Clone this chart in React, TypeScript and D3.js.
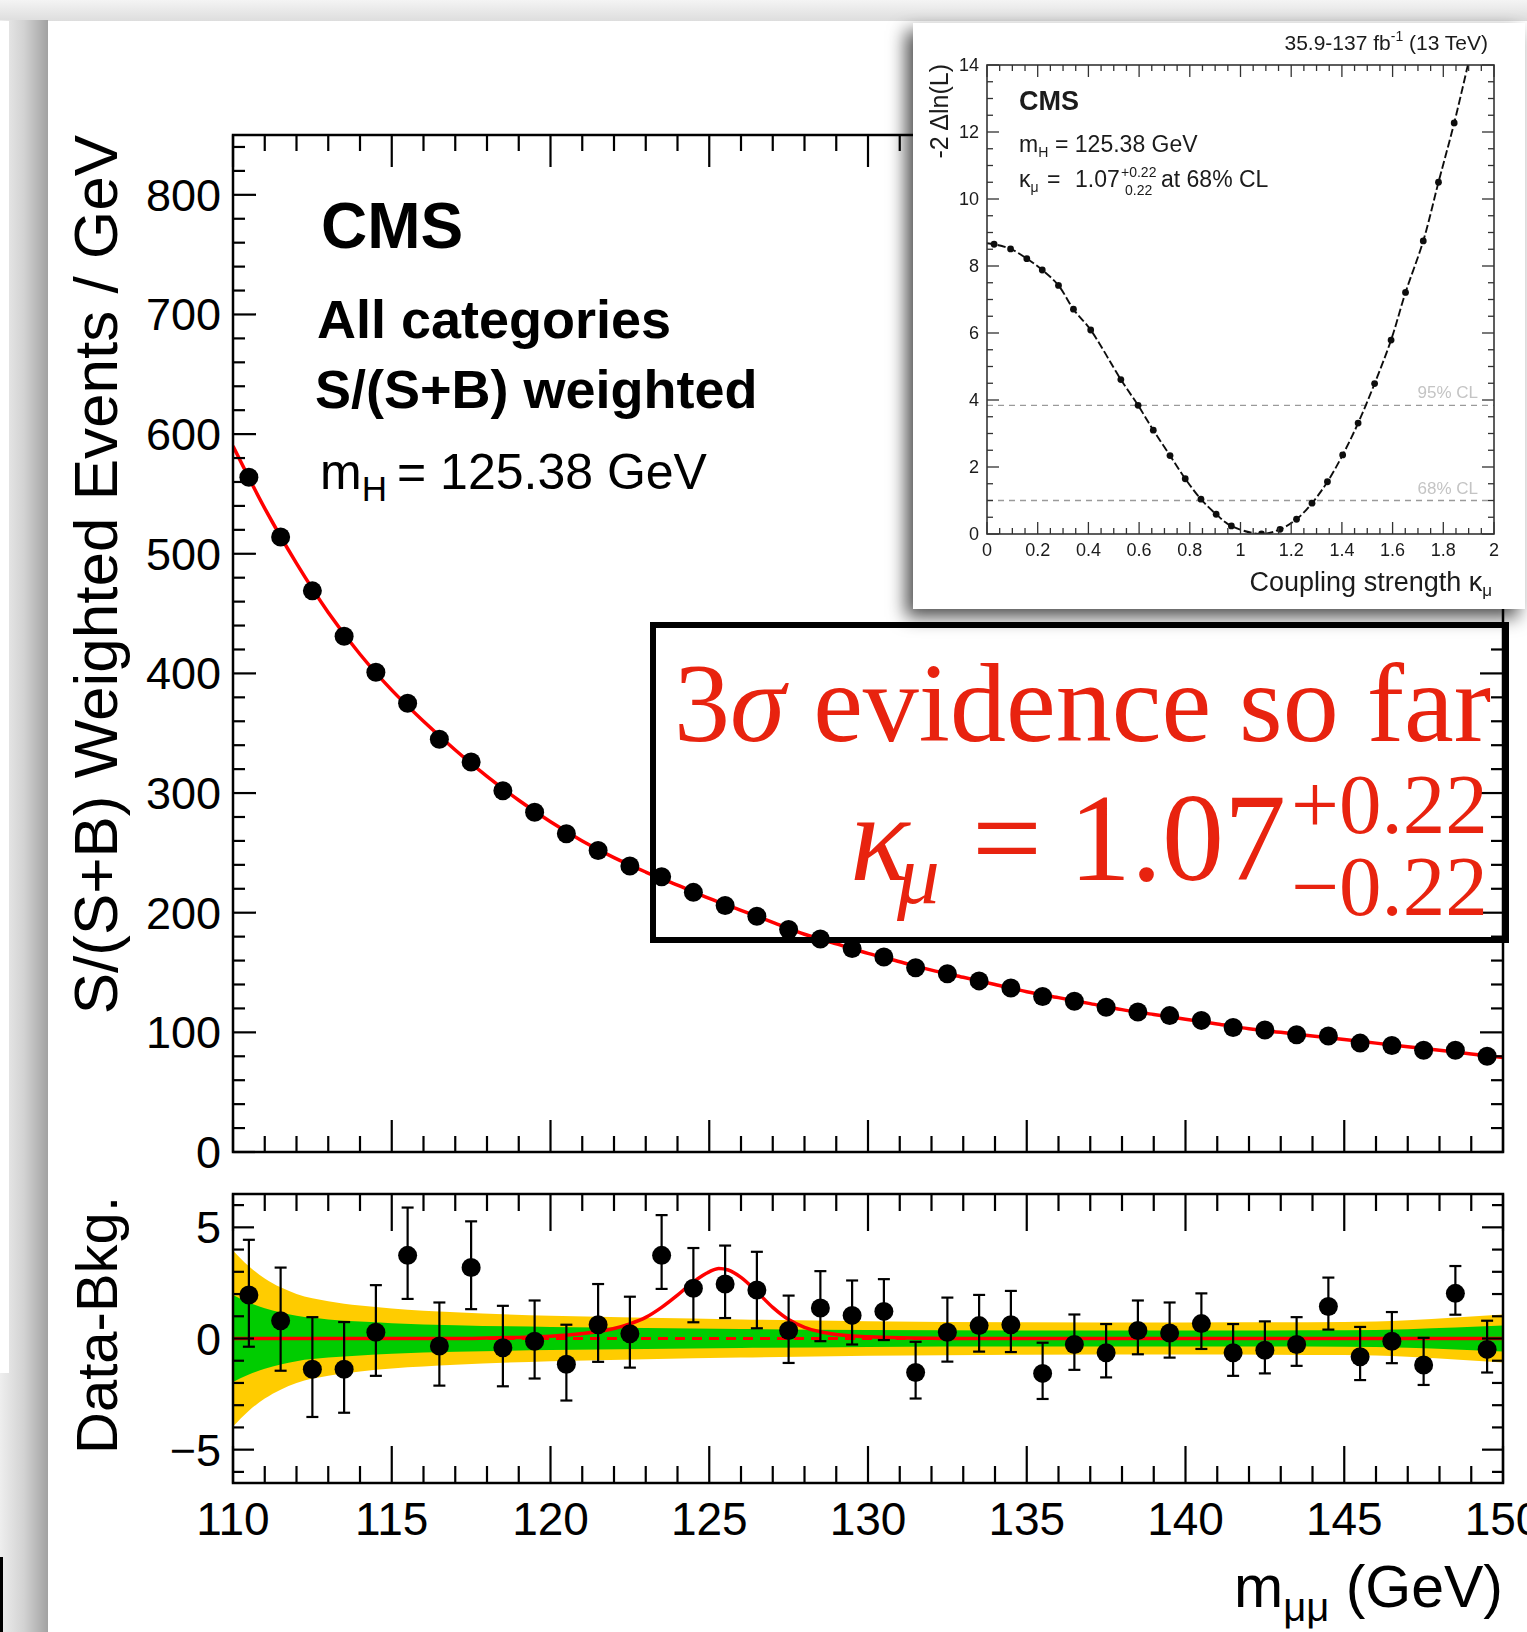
import React from "react";
import * as d3 from "d3";

const WIDTH = 1527;
const HEIGHT = 1632;
const SANS = "'Liberation Sans', Arial, Helvetica, sans-serif";
const SERIF = "'Liberation Serif', 'Times New Roman', serif";
const RED_TEXT = "#e8230f";

// Dimuon invariant-mass bin centres (GeV)
const massBins = [
  110.5, 111.5, 112.5, 113.5, 114.5, 115.5, 116.5, 117.5, 118.5, 119.5,
  120.5, 121.5, 122.5, 123.5, 124.5, 125.5, 126.5, 127.5, 128.5, 129.5,
  130.5, 131.5, 132.5, 133.5, 134.5, 135.5, 136.5, 137.5, 138.5, 139.5,
  140.5, 141.5, 142.5, 143.5, 144.5, 145.5, 146.5, 147.5, 148.5, 149.5,
];

// S/(S+B) weighted events per GeV
const weightedEvents = [
  564, 514, 469, 431, 401, 375, 345, 326, 302, 284,
  266, 252, 239, 230, 217, 206, 197, 186, 178, 170,
  163, 154, 149, 143, 137, 130, 126, 121, 117, 114,
  110, 104, 102, 98, 97, 91, 89, 85, 85, 80,
];

// Signal-plus-background fit at integer masses
const fitMass = [
  110, 111, 112, 113, 114, 115, 116, 117, 118, 119, 120, 121, 122, 123, 124,
  125, 126, 127, 128, 129, 130, 131, 132, 133, 134, 135, 136, 137, 138, 139,
  140, 141, 142, 143, 144, 145, 146, 147, 148, 149, 150,
];
const fitYield = [
  590, 538, 492, 451, 416, 386, 360, 336, 314, 294, 276, 260, 246, 234, 223,
  212, 202, 192, 182, 174, 166, 159, 152, 146, 140, 134, 129, 124, 119, 115,
  111, 107, 103, 100, 97, 94, 91, 88, 85, 82, 79,
];

// Data minus background, with upper / lower uncertainties
const residual = [
  1.96, 0.8, -1.38, -1.38, 0.28, 3.74, -0.34, 3.19, -0.42, -0.12,
  -1.16, 0.62, 0.21, 3.74, 2.26, 2.45, 2.18, 0.36, 1.37, 1.04,
  1.22, -1.53, 0.28, 0.58, 0.62, -1.57, -0.27, -0.64, 0.36, 0.25,
  0.67, -0.64, -0.53, -0.27, 1.44, -0.82, -0.12, -1.19, 2.03, -0.49,
];
const residualErrUp = [
  2.48, 2.39, 2.34, 2.12, 2.12, 2.15, 1.96, 2.08, 1.89, 1.83,
  1.78, 1.83, 1.67, 1.81, 1.81, 1.73, 1.72, 1.57, 1.66, 1.57,
  1.45, 1.38, 1.56, 1.38, 1.52, 1.38, 1.35, 1.29, 1.35, 1.37,
  1.36, 1.29, 1.3, 1.23, 1.3, 1.34, 1.31, 1.22, 1.23, 1.29,
];
const residualErrDown = [
  2.33, 2.25, 2.15, 1.96, 1.96, 1.96, 1.78, 1.87, 1.73, 1.68,
  1.63, 1.67, 1.52, 1.51, 1.53, 1.53, 1.72, 1.46, 1.49, 1.31,
  1.29, 1.17, 1.32, 1.17, 1.23, 1.15, 1.14, 1.11, 1.07, 1.11,
  1.14, 1.04, 1.04, 0.96, 1.04, 1.05, 0.99, 0.9, 0.96, 1.04,
];

// Background-fit uncertainty band (half widths)
const bandMass = [110, 110.5, 111, 111.5, 112, 113, 114, 115, 117, 120, 123, 126, 130, 135, 140, 145, 147, 148.5, 150];
const band2Sigma = [3.96, 3.25, 2.7, 2.3, 2.0, 1.68, 1.48, 1.35, 1.18, 1.02, 0.93, 0.86, 0.78, 0.73, 0.72, 0.74, 0.82, 0.94, 1.08];
const band1Sigma = [1.96, 1.62, 1.36, 1.17, 1.02, 0.86, 0.76, 0.69, 0.6, 0.52, 0.47, 0.43, 0.38, 0.36, 0.36, 0.37, 0.42, 0.49, 0.58];

// Fitted signal shape in data-minus-background units
const signalMass = [110, 117, 118, 119, 120, 121, 122, 122.5, 123, 123.5, 124, 124.5, 125, 125.3, 125.6, 126, 126.5, 127, 127.5, 128, 128.5, 129, 130, 131, 132, 133, 150];
const signalYield = [0, 0, 0.02, 0.05, 0.1, 0.22, 0.45, 0.66, 0.95, 1.4, 1.95, 2.55, 3.0, 3.15, 3.08, 2.75, 2.1, 1.4, 0.85, 0.5, 0.3, 0.18, 0.08, 0.03, 0.01, 0, 0];

// Likelihood scan of the muon coupling modifier
const scanKappa = [
  0.028, 0.093, 0.157, 0.218, 0.282, 0.341, 0.409, 0.528, 0.596, 0.656,
  0.722, 0.782, 0.844, 0.904, 0.964, 1.083, 1.156, 1.221, 1.282, 1.343,
  1.403, 1.464, 1.529, 1.594, 1.651, 1.721, 1.781, 1.843,
];
const scanNll = [
  8.65, 8.51, 8.22, 7.88, 7.42, 6.71, 6.09, 4.61, 3.84, 3.1,
  2.34, 1.65, 1.04, 0.59, 0.24, 0.0, 0.14, 0.44, 0.92, 1.56,
  2.36, 3.31, 4.49, 5.79, 7.21, 8.75, 10.5, 12.27,
];
const scanEnds = [
  [0, 8.68],
  [1.9, 14.1],
];

// Confidence-level thresholds
const clLevels = [
  { value: 3.84, label: "95% CL" },
  { value: 1.0, label: "68% CL" },
];

// Axis tick labels
const massTicks = [110, 115, 120, 125, 130, 135, 140, 145, 150];
const mainYTicks = [0, 100, 200, 300, 400, 500, 600, 700, 800];
const ratioYTicks = [-5, 0, 5];
const kappaTicks = [0, 0.2, 0.4, 0.6, 0.8, 1, 1.2, 1.4, 1.6, 1.8, 2];
const nllTicks = [0, 2, 4, 6, 8, 10, 12, 14];

const MAIN = { left: 233, right: 1503, top: 135, bottom: 1152 };
const RATIO = { left: 233, right: 1503, top: 1194, bottom: 1483 };
const INSET = { left: 987, right: 1494, top: 65, bottom: 534 };

export default function App() {
  const x = d3.scaleLinear().domain([110, 150]).range([MAIN.left, MAIN.right]);
  const yMain = d3.scaleLinear().domain([0, 850]).range([MAIN.bottom, MAIN.top]);
  const yRatio = d3.scaleLinear().domain([-6.5, 6.5]).range([RATIO.bottom, RATIO.top]);
  const kx = d3.scaleLinear().domain([0, 2]).range([INSET.left, INSET.right]);
  const ky = d3.scaleLinear().domain([0, 14]).range([INSET.bottom, INSET.top]);

  const fitPath = d3
    .line<number>()
    .x((_, i) => x(fitMass[i]))
    .y((d) => yMain(d))
    .curve(d3.curveMonotoneX)(fitYield) as string;

  const bandArea = (half: number[]) =>
    d3
      .area<number>()
      .x((_, i) => x(bandMass[i]))
      .y0((d) => yRatio(-d))
      .y1((d) => yRatio(d))
      .curve(d3.curveMonotoneX)(half) as string;

  const signalPath = d3
    .line<number>()
    .x((_, i) => x(signalMass[i]))
    .y((d) => yRatio(d))
    .curve(d3.curveMonotoneX)(signalYield) as string;

  const scanPoints: [number, number][] = [
    [scanEnds[0][0], scanEnds[0][1]],
    ...scanKappa.map((k, i) => [k, scanNll[i]] as [number, number]),
    [scanEnds[1][0], scanEnds[1][1]],
  ];
  const scanPath = d3
    .line<[number, number]>()
    .x((d) => kx(d[0]))
    .y((d) => ky(d[1]))
    .curve(d3.curveCatmullRom)(scanPoints) as string;

  const massMinor = d3.range(110, 150.001, 1);
  const mainYMinor = d3.range(0, 850.001, 20);
  const ratioYMinor = d3.range(-6, 6.001, 1);
  const kappaMinor = d3.range(0, 2.0001, 0.05);
  const nllMinor = d3.range(0, 14.001, 0.5);
  const isMult = (v: number, step: number) => Math.abs(v / step - Math.round(v / step)) < 1e-6;

  const tickStroke = { stroke: "#000", strokeWidth: 2.2 };

  return (
    <svg
      width={WIDTH}
      height={HEIGHT}
      viewBox={`0 0 ${WIDTH} ${HEIGHT}`}
      style={{ position: "fixed", left: 0, top: 0, display: "block" }}
      fontFamily={SANS}
    >
      <defs>
        <linearGradient id="leftShade" x1="0" x2="1" y1="0" y2="0">
          <stop offset="0" stopColor="#eeeeee" />
          <stop offset="0.5" stopColor="#d2d2d2" />
          <stop offset="1" stopColor="#a2a2a2" />
        </linearGradient>
        <linearGradient id="topShade" x1="0" x2="0" y1="0" y2="1">
          <stop offset="0" stopColor="#f4f4f4" />
          <stop offset="1" stopColor="#dcdcdc" />
        </linearGradient>
        <filter id="cardShadow" x="-15%" y="-15%" width="130%" height="135%">
          <feDropShadow dx="-7" dy="8" stdDeviation="9" floodColor="#000" floodOpacity="0.7" />
        </filter>
        <filter id="soft" x="-5%" y="-5%" width="110%" height="110%">
          <feGaussianBlur stdDeviation="0.7" />
        </filter>
        <clipPath id="mainClip">
          <rect x={MAIN.left} y={MAIN.top} width={MAIN.right - MAIN.left} height={MAIN.bottom - MAIN.top} />
        </clipPath>
        <clipPath id="ratioClip">
          <rect x={RATIO.left} y={RATIO.top} width={RATIO.right - RATIO.left} height={RATIO.bottom - RATIO.top} />
        </clipPath>
        <clipPath id="insetClip">
          <rect x={INSET.left} y={INSET.top} width={INSET.right - INSET.left} height={INSET.bottom - INSET.top} />
        </clipPath>
      </defs>

      {/* page surround */}
      <rect x={0} y={0} width={WIDTH} height={HEIGHT} fill="#dedede" />
      <rect x={0} y={0} width={WIDTH} height={22} fill="url(#topShade)" />
      <rect x={0} y={20} width={48} height={HEIGHT - 20} fill="url(#leftShade)" />
      <rect x={0} y={21} width={9} height={1352} fill="#ffffff" />
      <rect x={0} y={1557} width={3} height={HEIGHT - 1557} fill="#000" />
      <rect x={48} y={21} width={WIDTH - 48} height={HEIGHT - 21} fill="#ffffff" />

      {/* ===== main panel ===== */}
      <g clipPath="url(#mainClip)">
        <path d={fitPath} fill="none" stroke="#ff0000" strokeWidth={3.5} />
        {massBins.map((m, i) => (
          <circle key={`d${i}`} cx={x(m)} cy={yMain(weightedEvents[i])} r={9.5} fill="#000" />
        ))}
      </g>
      <rect
        x={MAIN.left}
        y={MAIN.top}
        width={MAIN.right - MAIN.left}
        height={MAIN.bottom - MAIN.top}
        fill="none"
        stroke="#000"
        strokeWidth={2.5}
      />
      {massMinor.map((m) => {
        const len = isMult(m, 5) ? 32 : 16;
        return (
          <g key={`mt${m}`} {...tickStroke}>
            <line x1={x(m)} x2={x(m)} y1={MAIN.bottom} y2={MAIN.bottom - len} />
            <line x1={x(m)} x2={x(m)} y1={MAIN.top} y2={MAIN.top + len} />
          </g>
        );
      })}
      {mainYMinor.map((v) => {
        const len = isMult(v, 100) ? 23 : 12;
        return (
          <g key={`my${v}`} {...tickStroke}>
            <line x1={MAIN.left} x2={MAIN.left + len} y1={yMain(v)} y2={yMain(v)} />
            <line x1={MAIN.right} x2={MAIN.right - len} y1={yMain(v)} y2={yMain(v)} />
          </g>
        );
      })}
      {mainYTicks.map((v) => (
        <text key={`myl${v}`} x={221} y={yMain(v) + 16} textAnchor="end" fontSize={45}>
          {v}
        </text>
      ))}
      <text transform={`translate(117,${MAIN.top}) rotate(-90)`} textAnchor="end" fontSize={62}>
        S/(S+B) Weighted Events / GeV
      </text>

      <text x={321} y={248} fontSize={64} fontWeight="bold">
        CMS
      </text>
      <text x={317} y={338} fontSize={54} fontWeight="bold">
        All categories
      </text>
      <text x={315} y={408} fontSize={54} fontWeight="bold">
        S/(S+B) weighted
      </text>
      <text x={320} y={489} fontSize={50}>
        m
        <tspan fontSize={35} dy={12}>
          H
        </tspan>
        <tspan x={397} dy={-12}>
          = 125.38 GeV
        </tspan>
      </text>

      {/* ===== ratio panel ===== */}
      <g clipPath="url(#ratioClip)">
        <path d={bandArea(band2Sigma)} fill="#ffcc00" />
        <path d={bandArea(band1Sigma)} fill="#00cc00" />
        <line
          x1={RATIO.left}
          x2={RATIO.right}
          y1={yRatio(0)}
          y2={yRatio(0)}
          stroke="#ff0000"
          strokeWidth={3}
          strokeDasharray="10 7"
        />
        <path d={signalPath} fill="none" stroke="#ff0000" strokeWidth={3.5} />
        {massBins.map((m, i) => {
          const cx = x(m);
          const top = yRatio(residual[i] + residualErrUp[i]);
          const bot = yRatio(residual[i] - residualErrDown[i]);
          return (
            <g key={`r${i}`}>
              <g stroke="#000" strokeWidth={2.2}>
                <line x1={cx} x2={cx} y1={top} y2={bot} />
                <line x1={cx - 6} x2={cx + 6} y1={top} y2={top} />
                <line x1={cx - 6} x2={cx + 6} y1={bot} y2={bot} />
              </g>
              <circle cx={cx} cy={yRatio(residual[i])} r={9.5} fill="#000" />
            </g>
          );
        })}
      </g>
      <rect
        x={RATIO.left}
        y={RATIO.top}
        width={RATIO.right - RATIO.left}
        height={RATIO.bottom - RATIO.top}
        fill="none"
        stroke="#000"
        strokeWidth={2.5}
      />
      {massMinor.map((m) => {
        const len = isMult(m, 5) ? 37 : 17;
        return (
          <g key={`rt${m}`} {...tickStroke}>
            <line x1={x(m)} x2={x(m)} y1={RATIO.bottom} y2={RATIO.bottom - len} />
            <line x1={x(m)} x2={x(m)} y1={RATIO.top} y2={RATIO.top + len} />
          </g>
        );
      })}
      {ratioYMinor.map((v) => {
        const len = isMult(v, 5) ? 21 : 11;
        return (
          <g key={`ry${v}`} {...tickStroke}>
            <line x1={RATIO.left} x2={RATIO.left + len} y1={yRatio(v)} y2={yRatio(v)} />
            <line x1={RATIO.right} x2={RATIO.right - len} y1={yRatio(v)} y2={yRatio(v)} />
          </g>
        );
      })}
      {ratioYTicks.map((v) => (
        <text key={`ryl${v}`} x={221} y={yRatio(v) + 16} textAnchor="end" fontSize={45}>
          {v < 0 ? `\u2212${-v}` : v}
        </text>
      ))}
      <text transform={`translate(117,${RATIO.top + 2}) rotate(-90)`} textAnchor="end" fontSize={58}>
        Data-Bkg.
      </text>
      {massTicks.map((m) => (
        <text key={`xl${m}`} x={x(m)} y={1535} textAnchor="middle" fontSize={46}>
          {m}
        </text>
      ))}
      <text x={MAIN.right} y={1607} textAnchor="end" fontSize={59}>
        m
        <tspan fontSize={40} dy={14}>
          μμ
        </tspan>
        <tspan dy={-14}> (GeV)</tspan>
      </text>

      {/* ===== result box ===== */}
      <rect x={653} y={625} width={853} height={315} fill="none" stroke="#000" strokeWidth={6} />
      <g fill={RED_TEXT} fontFamily={SERIF}>
        <text x={1491} y={741} textAnchor="end" fontSize={112}>
          3<tspan fontStyle="italic">σ</tspan> evidence so far
        </text>
        <text x={850} y={880} fontSize={124} fontStyle="italic">
          κ
        </text>
        <text x={897} y={903} fontSize={85} fontStyle="italic">
          μ
        </text>
        <text x={1007} y={880} fontSize={124} textAnchor="middle">
          =
        </text>
        <text x={1286} y={880} fontSize={124} textAnchor="end">
          1.07
        </text>
        <text x={1291} y={833} fontSize={85}>
          +0.22
        </text>
        <text x={1291} y={915} fontSize={85}>
          −0.22
        </text>
      </g>

      {/* ===== likelihood-scan inset ===== */}
      <rect x={913} y={23} width={612} height={586} fill="#ffffff" filter="url(#cardShadow)" />
      <g filter="url(#soft)" fill="#1a1a1a" stroke="none">
        {clLevels.map((c) => (
          <g key={c.label}>
            <line
              x1={INSET.left}
              x2={INSET.right}
              y1={ky(c.value)}
              y2={ky(c.value)}
              stroke="#9a9a9a"
              strokeWidth={1.3}
              strokeDasharray="6 5"
            />
            <text x={1478} y={ky(c.value) - 7} textAnchor="end" fontSize={17} fill="#c4c4c4">
              {c.label}
            </text>
          </g>
        ))}
        <g clipPath="url(#insetClip)">
          <path d={scanPath} fill="none" stroke="#111" strokeWidth={1.9} strokeDasharray="8 3" />
          {scanKappa.map((k, i) => (
            <circle key={`s${i}`} cx={kx(k)} cy={ky(scanNll[i])} r={3.4} fill="#111" />
          ))}
        </g>
        <rect
          x={INSET.left}
          y={INSET.top}
          width={INSET.right - INSET.left}
          height={INSET.bottom - INSET.top}
          fill="none"
          stroke="#333"
          strokeWidth={1.6}
        />
        {kappaMinor.map((k) => {
          const len = isMult(k, 0.2) ? 12 : 6;
          return (
            <g key={`kt${k.toFixed(2)}`} stroke="#333" strokeWidth={1.3}>
              <line x1={kx(k)} x2={kx(k)} y1={INSET.bottom} y2={INSET.bottom - len} />
              <line x1={kx(k)} x2={kx(k)} y1={INSET.top} y2={INSET.top + len} />
            </g>
          );
        })}
        {nllMinor.map((v) => {
          const len = isMult(v, 2) ? 12 : 6;
          return (
            <g key={`nt${v}`} stroke="#333" strokeWidth={1.3}>
              <line x1={INSET.left} x2={INSET.left + len} y1={ky(v)} y2={ky(v)} />
              <line x1={INSET.right} x2={INSET.right - len} y1={ky(v)} y2={ky(v)} />
            </g>
          );
        })}
        {kappaTicks.map((k) => (
          <text key={`kl${k}`} x={kx(k)} y={556} textAnchor="middle" fontSize={18}>
            {k}
          </text>
        ))}
        {nllTicks.map((v) => (
          <text key={`nl${v}`} x={979} y={ky(v) + 6} textAnchor="end" fontSize={18}>
            {v}
          </text>
        ))}
        <text transform={`translate(948,${INSET.top - 1}) rotate(-90)`} textAnchor="end" fontSize={25}>
          -2 Δln(L)
        </text>
        <text x={1492} y={591} textAnchor="end" fontSize={27}>
          Coupling strength κ
          <tspan fontSize={17} dy={5}>
            μ
          </tspan>
        </text>
        <text x={1488} y={50} textAnchor="end" fontSize={21}>
          35.9-137 fb
          <tspan fontSize={14} dy={-9}>
            -1
          </tspan>
          <tspan dy={9}> (13 TeV)</tspan>
        </text>
        <text x={1019} y={110} fontSize={27} fontWeight="bold">
          CMS
        </text>
        <text x={1019} y={152} fontSize={23}>
          m
          <tspan fontSize={14} dy={5}>
            H
          </tspan>
          <tspan x={1055} dy={-5}>
            = 125.38 GeV
          </tspan>
        </text>
        <text x={1019} y={187} fontSize={23}>
          κ
          <tspan fontSize={14} dy={5}>
            μ
          </tspan>
        </text>
        <text x={1047} y={187} fontSize={23}>
          =
        </text>
        <text x={1075} y={187} fontSize={23}>
          1.07
        </text>
        <text x={1121} y={177} fontSize={14}>
          +0.22
        </text>
        <text x={1125} y={195} fontSize={14}>
          0.22
        </text>
        <text x={1161} y={187} fontSize={23}>
          at 68% CL
        </text>
      </g>
    </svg>
  );
}
